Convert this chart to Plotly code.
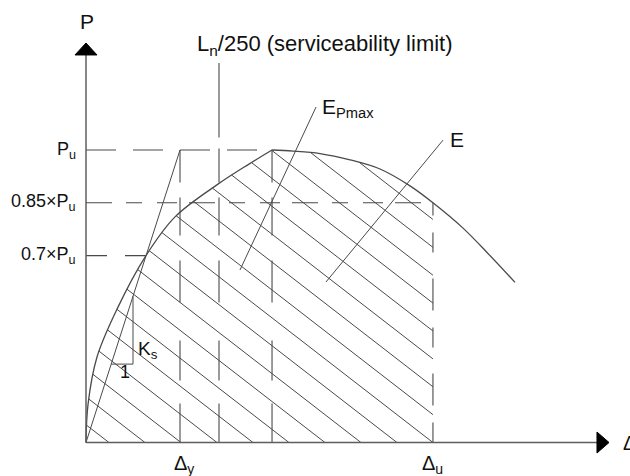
import numpy as np
import plotly.graph_objects as go

# ---------------------------------------------------------------- data
# Load levels as fractions of the peak load Pu, with their axis labels
P_LEVELS = [1.0, 0.85, 0.7]
P_LABELS = ["P<sub>u</sub>", "0.85×P<sub>u</sub>", "0.7×P<sub>u</sub>"]
P_BASE = 0.169          # load at the horizontal axis (schematic, axis not drawn from zero)

# Characteristic deformations (Δy taken as the unit of the Δ axis)
D_Y = 1.0               # yield deformation Δy
D_LN250 = 1.415         # serviceability limit Ln/250
D_PEAK = 1.979          # deformation at Pu
D_U = 3.691             # ultimate deformation Δu (post-peak drop to 0.85·Pu)
D_TOP_LN = 1.247        # top of the Ln/250 guide line

# Load–deformation curve: ascending branch up to Pu, then descending branch
ASC_D = [0.0, 0.021, 0.117, 0.330, 0.638, 0.947, 1.404, 1.734, 1.979]
ASC_P = [0.169, 0.276, 0.412, 0.548, 0.700, 0.810, 0.903, 0.960, 1.000]
DESC_D = [1.979, 2.202, 2.489, 2.809, 3.128, 3.447, 3.691, 4.011, 4.266, 4.564]
DESC_P = [1.000, 0.997, 0.990, 0.972, 0.946, 0.898, 0.850, 0.778, 0.709, 0.624]

# ---------------------------------------------------------------- scales
PX_X = 94.0             # pixels per unit of Δ
PX_P = 352.0            # pixels per unit of P/Pu
X0_PX, P1_PX = 86.0, 150.0
X_RANGE = [-X0_PX / PX_X, (630 - X0_PX) / PX_X]
Y_RANGE = [1 - (476 - P1_PX) / PX_P, 1 + P1_PX / PX_P]
SMOOTH = 1.0

LINE = "#4a4a4a"
AXIS = "#5e5e5e"
TXT = "#111111"
FONT = "Liberation Sans, Arial, sans-serif"


def to_px(d, p):
    return np.column_stack([X0_PX + np.asarray(d) * PX_X, P1_PX + (1 - np.asarray(p)) * PX_P])


def to_data(pts):
    return (pts[:, 0] - X0_PX) / PX_X, 1 - (pts[:, 1] - P1_PX) / PX_P


def spline_path(pts, s, n=60):
    """Dense polyline following plotly's own 'spline' line shape."""
    def tangent(p0, p1, p2):
        d1, d2 = p0 - p1, p2 - p1
        a1, a2 = (d1 @ d1) ** 0.25, (d2 @ d2) ** 0.25
        num = (a2 * a2 * d1 - a1 * a1 * d2) * s
        return p1 + num / (3 * a2 * (a1 + a2)), p1 - num / (3 * a1 * (a1 + a2))

    tans = [tangent(pts[i - 1], pts[i], pts[i + 1]) for i in range(1, len(pts) - 1)]
    t = np.linspace(0, 1, n)[1:, None]
    out = [pts[:1]]
    out.append((1 - t) ** 2 * pts[0] + 2 * (1 - t) * t * tans[0][0] + t ** 2 * pts[1])
    for i in range(2, len(pts) - 1):
        c1, c2 = tans[i - 2][1], tans[i - 1][0]
        out.append((1 - t) ** 3 * pts[i - 1] + 3 * (1 - t) ** 2 * t * c1
                   + 3 * (1 - t) * t ** 2 * c2 + t ** 3 * pts[i])
    out.append((1 - t) ** 2 * pts[-2] + 2 * (1 - t) * t * tans[-1][1] + t ** 2 * pts[-1])
    return np.vstack(out)


fig = go.Figure()


def seg(xs, ys, color=LINE, width=1.1, dash="solid"):
    fig.add_trace(go.Scatter(x=xs, y=ys, mode="lines", hoverinfo="skip",
                             line=dict(color=color, width=width, dash=dash)))


# ---------------------------------------------------------------- hatching
asc_px = spline_path(to_px(ASC_D, ASC_P), SMOOTH)
k_u = DESC_D.index(D_U)
desc_px = spline_path(to_px(DESC_D, DESC_P), SMOOTH)
desc_px = desc_px[: (k_u * 59) + 1]          # descending branch up to Δu
base_py = to_px([0], [P_BASE])[0, 1]
du_px = to_px([D_U], [P_BASE])[0, 0]
poly = np.vstack([asc_px, desc_px[1:], [[du_px, base_py]], [[X0_PX, base_py]]])

H_SLOPE = 0.7745                  # hatch rise per pixel run (down to the right)
H_STEP = 36.0                     # hatch spacing along the Δ axis, pixels
u = np.array([-1.0, -H_SLOPE])
edges = np.roll(poly, -1, axis=0) - poly
hx, hy = [], []
for k in range(-10, 14):
    a = np.array([du_px - k * H_STEP, base_py])
    w = poly - a
    den = u[0] * edges[:, 1] - u[1] * edges[:, 0]
    with np.errstate(divide="ignore", invalid="ignore"):
        tt = (w[:, 0] * edges[:, 1] - w[:, 1] * edges[:, 0]) / den
        ss = (w[:, 0] * u[1] - w[:, 1] * u[0]) / den
    ok = np.isfinite(tt) & (ss >= -1e-9) & (ss <= 1 + 1e-9)
    if ok.sum() < 2:
        continue
    t0, t1 = tt[ok].min(), tt[ok].max()
    if t1 - t0 < 1.0:
        continue
    ends = np.array([a + t0 * u, a + t1 * u])
    dx, dy = to_data(ends)
    hx += [dx[0], dx[1], None]
    hy += [dy[0], dy[1], None]
seg(hx, hy, width=1.0)

# ---------------------------------------------------------------- guide lines
V_DASH = "39px,23px,40px,38px,42px,25px,38px,15px,34px,11px,80px"
seg([D_Y, D_Y], [P_BASE, P_LEVELS[0]], dash=V_DASH)
seg([D_LN250, D_LN250], [P_BASE, D_TOP_LN], dash=V_DASH)
seg([D_PEAK, D_PEAK], [P_BASE, P_LEVELS[0]], dash=V_DASH)
seg([D_U, D_U], [P_BASE, P_LEVELS[1]], dash="20px,17px,32px,26px")

seg([0, D_PEAK], [P_LEVELS[0], P_LEVELS[0]], dash="30px,17px")
seg([0, D_U], [P_LEVELS[1], P_LEVELS[1]], dash="26px,14px,16px,15px,20px,12px")
x07 = float(np.interp(P_LEVELS[2], ASC_P, ASC_D))
seg([0, x07], [P_LEVELS[2], P_LEVELS[2]], dash="21px,18px")

# secant stiffness Ks through Pu at Δy, with its slope triangle
seg([0, D_Y], [P_BASE, P_LEVELS[0]], width=1.0)
ks = (P_LEVELS[0] - P_BASE) / D_Y
tx0, tx1 = 0.268, 0.5
seg([tx0, tx1, tx1], [P_BASE + ks * tx0, P_BASE + ks * tx0, P_BASE + ks * tx1], width=1.0)

# ---------------------------------------------------------------- curve
for cd, cp in ((ASC_D, ASC_P), (DESC_D, DESC_P)):
    fig.add_trace(go.Scatter(x=cd, y=cp, mode="lines", hoverinfo="skip",
                             line=dict(color=LINE, width=1.3, shape="spline",
                                       smoothing=SMOOTH, simplify=False)))

# leader lines to the energy labels
seg([1.638, 2.447], [0.659, 1.122], width=1.0)
seg([2.553, 3.798], [0.625, 1.028], width=1.0)

# ---------------------------------------------------------------- axes with arrows
Y_END, Y_TIP, Y_HALF = 1.270, 1.304, 11 / PX_X
X_END, X_TIP, X_HALF = 5.436, 5.564, 10.5 / PX_P
seg([0, 0], [P_BASE, Y_END], color=AXIS, width=1.5)
seg([0, X_END], [P_BASE, P_BASE], color=AXIS, width=1.5)
fig.add_trace(go.Scatter(x=[-Y_HALF, Y_HALF, 0, -Y_HALF], y=[Y_END, Y_END, Y_TIP, Y_END],
                         mode="lines", fill="toself", fillcolor="#000000",
                         line=dict(color="#000000", width=1), hoverinfo="skip"))
fig.add_trace(go.Scatter(x=[X_END, X_END, X_TIP, X_END],
                         y=[P_BASE - X_HALF, P_BASE + X_HALF, P_BASE, P_BASE - X_HALF],
                         mode="lines", fill="toself", fillcolor="#000000",
                         line=dict(color="#000000", width=1), hoverinfo="skip"))


# ---------------------------------------------------------------- text
def label(x, y, text, size, xanchor="center", yanchor="middle"):
    fig.add_annotation(x=x, y=y, text=text, showarrow=False, xanchor=xanchor, yanchor=yanchor,
                       font=dict(family=FONT, size=size, color=TXT))


for lev, lab in zip(P_LEVELS, P_LABELS):
    label(-0.09, lev, lab, 18, xanchor="right")

label(0.011, 1.364, "P", 21)
label(1.16, 1.297, "L<sub>n</sub>/250 (serviceability limit)", 22, xanchor="left")
label(2.49, 1.118, "E<sub>Pmax</sub>", 21, xanchor="left")
label(3.947, 1.031, "E", 21)
label(0.535, 0.432, "K<sub>s</sub>", 19, xanchor="left")
label(0.415, 0.369, "1", 18)
label(D_Y + 0.04, 0.106, "Δ<sub>y</sub>", 20)
label(D_U, 0.106, "Δ<sub>u</sub>", 20)
label(5.69, P_BASE, "Δ", 20, xanchor="left")

fig.update_layout(
    width=630, height=476, margin=dict(l=0, r=0, t=0, b=0),
    paper_bgcolor="white", plot_bgcolor="white", showlegend=False,
    xaxis=dict(range=X_RANGE, visible=False, fixedrange=True),
    yaxis=dict(range=Y_RANGE, visible=False, fixedrange=True),
)

fig.write_html("out.html")
